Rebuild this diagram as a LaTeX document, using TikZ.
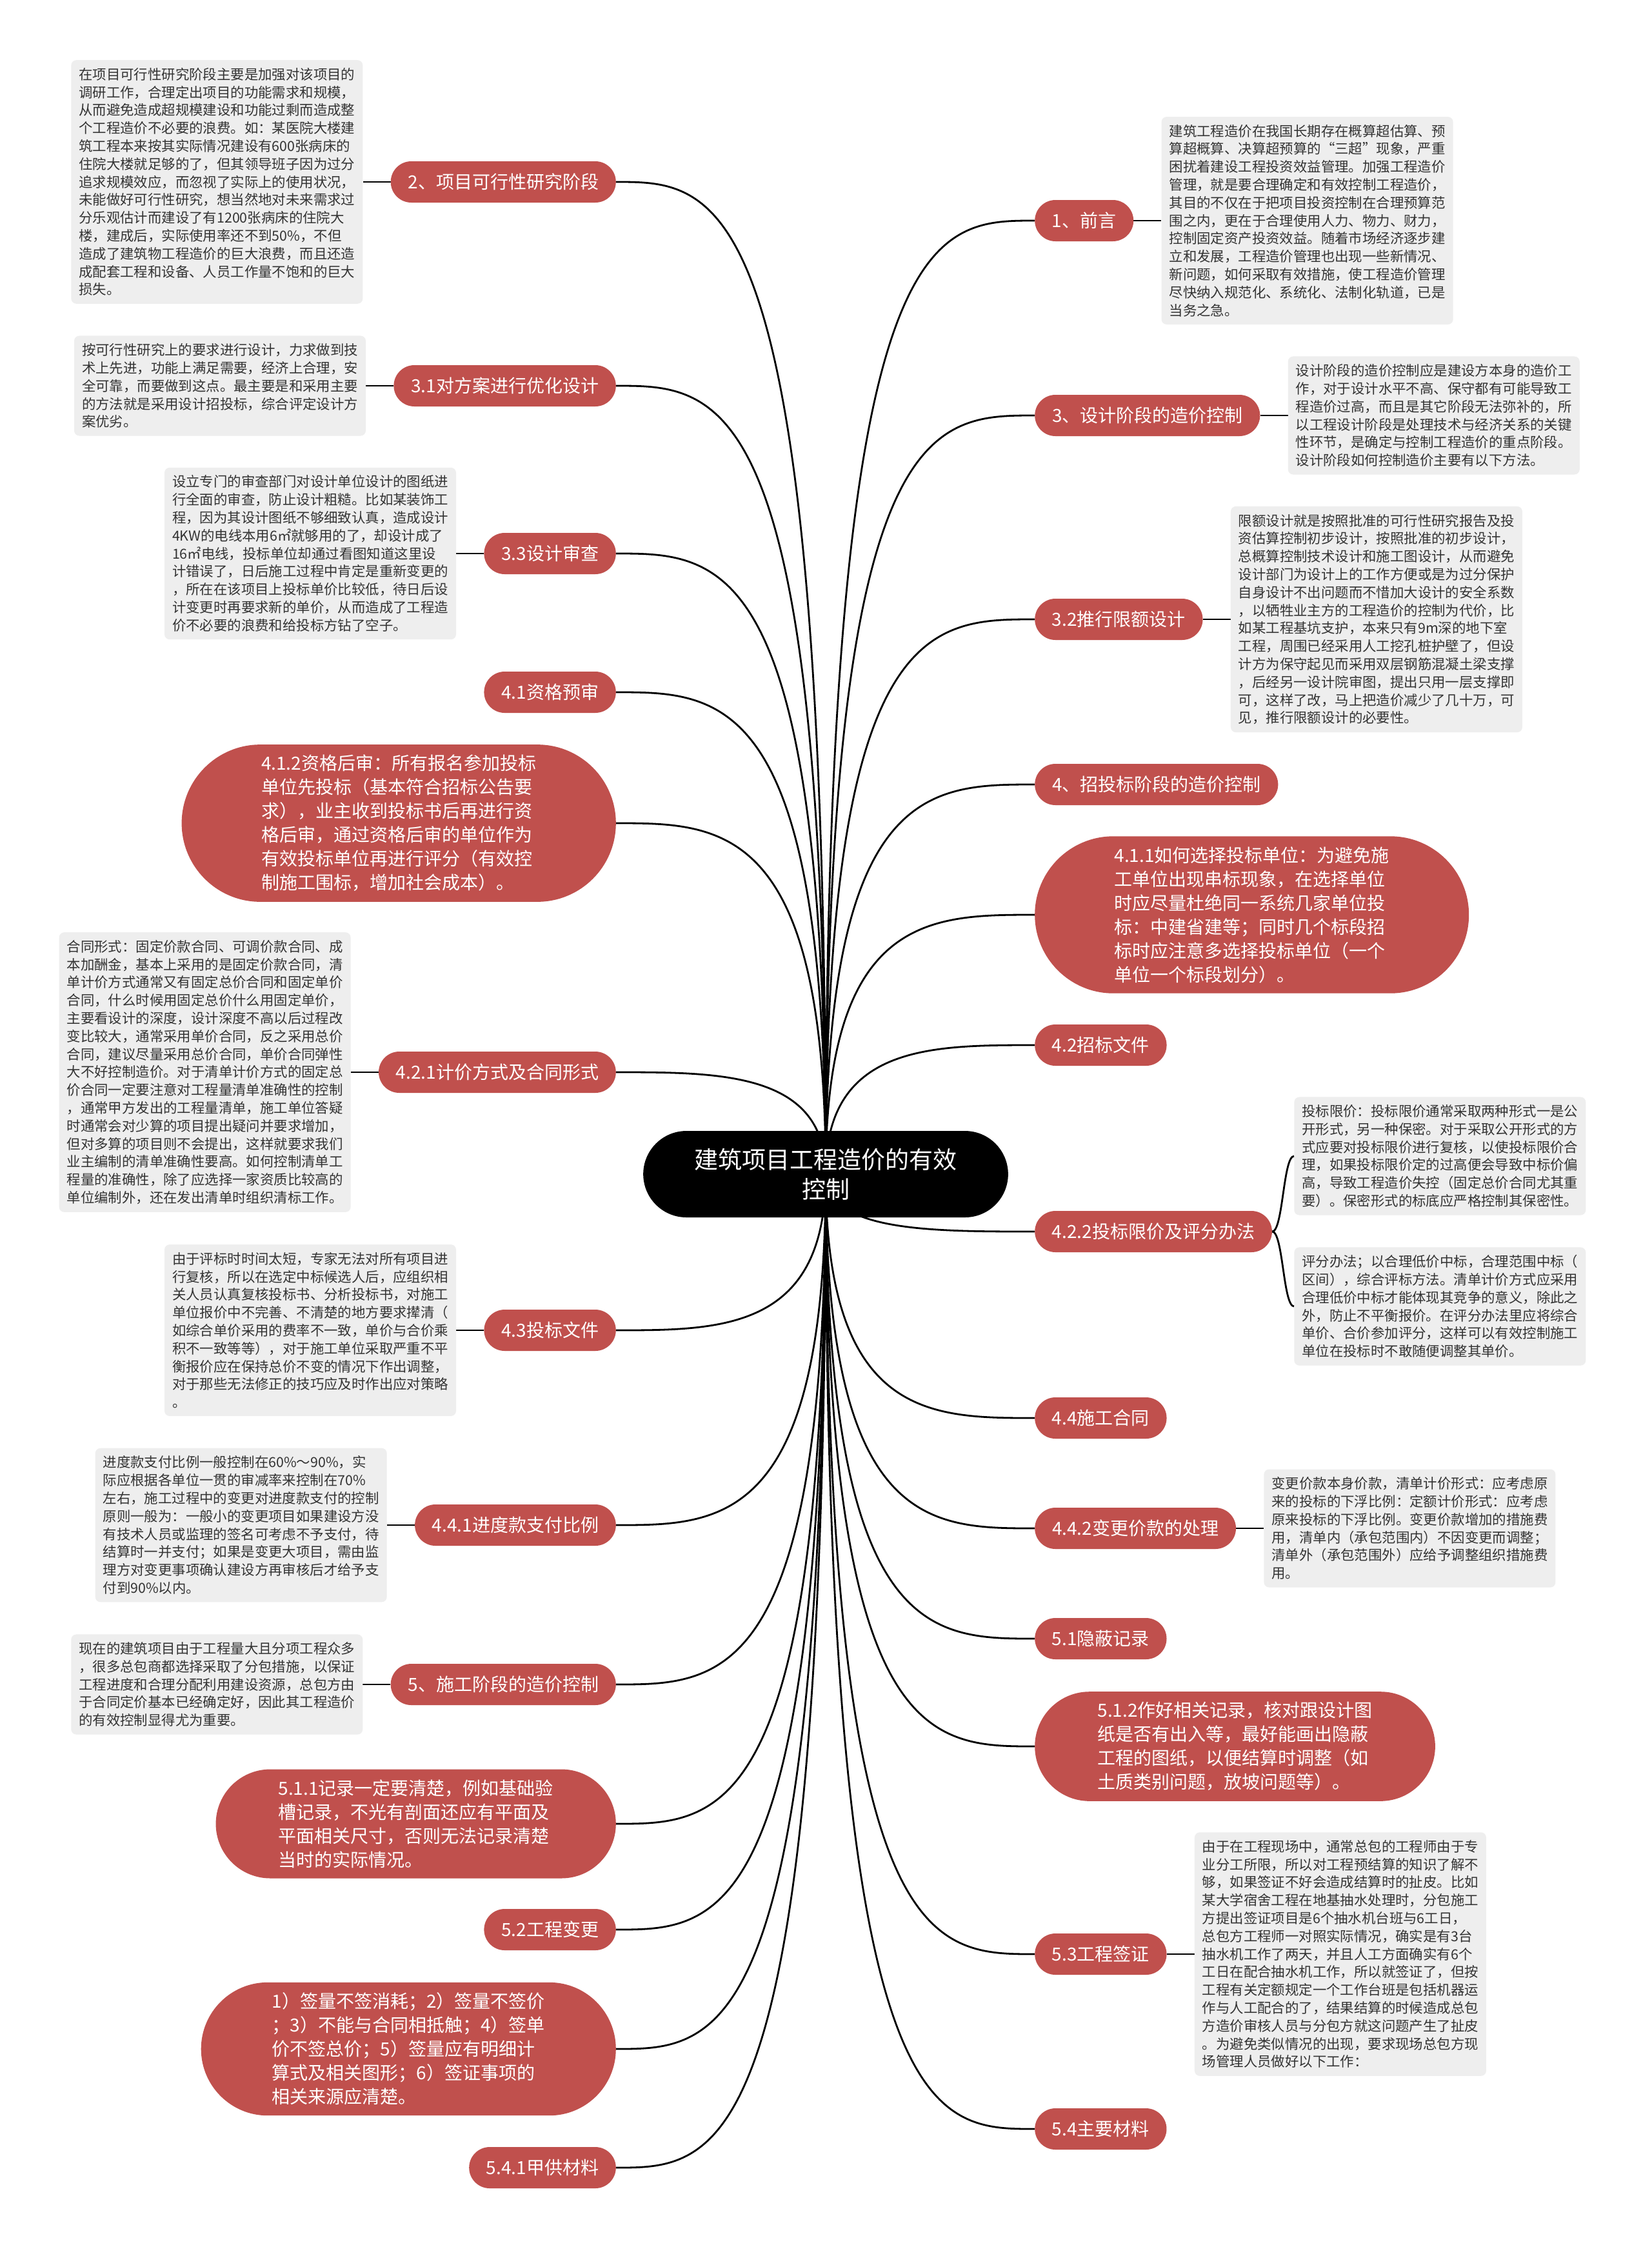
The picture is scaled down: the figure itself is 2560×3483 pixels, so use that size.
\documentclass[tikz,border=0pt]{standalone}
\usepackage{fontspec}
\setmainfont{Noto Sans CJK SC}
\usetikzlibrary{positioning,shapes.misc,calc,backgrounds}
\definecolor{branchred}{HTML}{C0504D}
\definecolor{notegray}{HTML}{EEEEEE}
\definecolor{notetext}{HTML}{333333}

\begin{document}
\begin{tikzpicture}[x=1pt, y=-1pt,
  every node/.style={font=\fontsize{28}{37}\selectfont},
  root/.style={rounded rectangle, fill=black, text=white, inner xsep=66pt, minimum height=134pt, align=center, font=\fontsize{37}{46}\selectfont},
  branch/.style={rounded rectangle, fill=branchred, text=white, inner xsep=24pt, minimum height=64pt},
  pill/.style={rounded rectangle, fill=branchred, text=white, inner xsep=62pt, inner ysep=16pt, align=left},
  note/.style={fill=notegray, text=notetext, rounded corners=8pt, inner sep=12pt, align=left, font=\fontsize{21.4}{27.8}\selectfont},
  fan/.style={line width=2.8pt, to path={.. controls (\tikztostart |- \tikztotarget) and ($(\tikztostart |- \tikztotarget)!0.5!(\tikztotarget)$) .. (\tikztotarget)}},
  link/.style={line width=2.8pt}]
\useasboundingbox (0,0) rectangle (2560,3483);

\node[root] (root) at (1280,1820) {建筑项目工程造价的有效\\控制};

% right side
\node[branch, anchor=west] (r1) at (1604,342) {1、前言};
\node[branch, anchor=west] (r3) at (1604,644) {3、设计阶段的造价控制};
\node[branch, anchor=west] (r32) at (1604,960) {3.2推行限额设计};
\node[branch, anchor=west] (r4) at (1604,1216) {4、招投标阶段的造价控制};
\node[pill, anchor=west] (r411) at (1604,1418) {4.1.1如何选择投标单位：为避免施\\工单位出现串标现象，在选择单位\\时应尽量杜绝同一系统几家单位投\\标：中建省建等；同时几个标段招\\标时应注意多选择投标单位（一个\\单位一个标段划分）。};
\node[branch, anchor=west] (r42) at (1604,1620) {4.2招标文件};
\node[branch, anchor=west] (r422) at (1604,1909) {4.2.2投标限价及评分办法};
\node[branch, anchor=west] (r44) at (1604,2198) {4.4施工合同};
\node[branch, anchor=west] (r442) at (1604,2369) {4.4.2变更价款的处理};
\node[branch, anchor=west] (r51) at (1604,2540) {5.1隐蔽记录};
\node[pill, anchor=west] (r512) at (1604,2707) {5.1.2作好相关记录，核对跟设计图\\纸是否有出入等，最好能画出隐蔽\\工程的图纸，以便结算时调整（如\\土质类别问题，放坡问题等）。};
\node[branch, anchor=west] (r53) at (1604,3029) {5.3工程签证};
\node[branch, anchor=west] (r54) at (1604,3300) {5.4主要材料};

\node[note, right=43pt of r1] (n1) {建筑工程造价在我国长期存在概算超估算、预\\算超概算、决算超预算的“三超”现象，严重\\困扰着建设工程投资效益管理。加强工程造价\\管理，就是要合理确定和有效控制工程造价，\\其目的不仅在于把项目投资控制在合理预算范\\围之内，更在于合理使用人力、物力、财力，\\控制固定资产投资效益。随着市场经济逐步建\\立和发展，工程造价管理也出现一些新情况、\\新问题，如何采取有效措施，使工程造价管理\\尽快纳入规范化、系统化、法制化轨道，已是\\当务之急。};
\node[note, right=43pt of r3] (n3) {设计阶段的造价控制应是建设方本身的造价工\\作，对于设计水平不高、保守都有可能导致工\\程造价过高，而且是其它阶段无法弥补的，所\\以工程设计阶段是处理技术与经济关系的关键\\性环节，是确定与控制工程造价的重点阶段。\\设计阶段如何控制造价主要有以下方法。};
\node[note, right=43pt of r32] (n32) {限额设计就是按照批准的可行性研究报告及投\\资估算控制初步设计，按照批准的初步设计，\\总概算控制技术设计和施工图设计，从而避免\\设计部门为设计上的工作方便或是为过分保护\\自身设计不出问题而不惜加大设计的安全系数\\，以牺牲业主方的工程造价的控制为代价，比\\如某工程基坑支护，本来只有9m深的地下室\\工程，周围已经采用人工挖孔桩护壁了，但设\\计方为保守起见而采用双层钢筋混凝土梁支撑\\，后经另一设计院审图，提出只用一层支撑即\\可，这样了改，马上把造价减少了几十万，可\\见，推行限额设计的必要性。};
\node[note, anchor=west] (k1) at ($(r422.east)+(34,-117)$) {投标限价：投标限价通常采取两种形式一是公\\开形式，另一种保密。对于采取公开形式的方\\式应要对投标限价进行复核，以使投标限价合\\理，如果投标限价定的过高便会导致中标价偏\\高，导致工程造价失控（固定总价合同尤其重\\要）。保密形式的标底应严格控制其保密性。};
\node[note, anchor=west] (k2) at ($(r422.east)+(34,116)$) {评分办法；以合理低价中标，合理范围中标（\\区间），综合评标方法。清单计价方式应采用\\合理低价中标才能体现其竞争的意义，除此之\\外，防止不平衡报价。在评分办法里应将综合\\单价、合价参加评分，这样可以有效控制施工\\单位在投标时不敢随便调整其单价。};
\node[note, right=43pt of r442] (n442) {变更价款本身价款，清单计价形式：应考虑原\\来的投标的下浮比例：定额计价形式：应考虑\\原来投标的下浮比例。变更价款增加的措施费\\用，清单内（承包范围内）不因变更而调整；\\清单外（承包范围外）应给予调整组织措施费\\用。};
\node[note, right=43pt of r53] (n53) {由于在工程现场中，通常总包的工程师由于专\\业分工所限，所以对工程预结算的知识了解不\\够，如果签证不好会造成结算时的扯皮。比如\\某大学宿舍工程在地基抽水处理时，分包施工\\方提出签证项目是6个抽水机台班与6工日，\\总包方工程师一对照实际情况，确实是有3台\\抽水机工作了两天，并且人工方面确实有6个\\工日在配合抽水机工作，所以就签证了，但按\\工程有关定额规定一个工作台班是包括机器运\\作与人工配合的了，结果结算的时候造成总包\\方造价审核人员与分包方就这问题产生了扯皮\\。为避免类似情况的出现，要求现场总包方现\\场管理人员做好以下工作：};

% left side
\node[branch, anchor=east] (l2) at (955,282) {2、项目可行性研究阶段};
\node[branch, anchor=east] (l31) at (955,598) {3.1对方案进行优化设计};
\node[branch, anchor=east] (l33) at (955,858) {3.3设计审查};
\node[branch, anchor=east] (l41) at (955,1073) {4.1资格预审};
\node[pill, anchor=east] (l412) at (955,1276) {4.1.2资格后审：所有报名参加投标\\单位先投标（基本符合招标公告要\\求），业主收到投标书后再进行资\\格后审，通过资格后审的单位作为\\有效投标单位再进行评分（有效控\\制施工围标，增加社会成本）。};
\node[branch, anchor=east] (l421) at (955,1662) {4.2.1计价方式及合同形式};
\node[branch, anchor=east] (l43) at (955,2062) {4.3投标文件};
\node[branch, anchor=east] (l441) at (955,2364) {4.4.1进度款支付比例};
\node[branch, anchor=east] (l5) at (955,2611) {5、施工阶段的造价控制};
\node[pill, anchor=east] (l511) at (955,2827) {5.1.1记录一定要清楚，例如基础验\\槽记录，不光有剖面还应有平面及\\平面相关尺寸，否则无法记录清楚\\当时的实际情况。};
\node[branch, anchor=east] (l52) at (955,2991) {5.2工程变更};
\node[pill, anchor=east] (lsig) at (955,3176) {1）签量不签消耗；2）签量不签价\\；3）不能与合同相抵触；4）签单\\价不签总价；5）签量应有明细计\\算式及相关图形；6）签证事项的\\相关来源应清楚。};
\node[branch, anchor=east] (l541) at (955,3360) {5.4.1甲供材料};

\node[note, left=43pt of l2] (n2) {在项目可行性研究阶段主要是加强对该项目的\\调研工作，合理定出项目的功能需求和规模，\\从而避免造成超规模建设和功能过剩而造成整\\个工程造价不必要的浪费。如：某医院大楼建\\筑工程本来按其实际情况建设有600张病床的\\住院大楼就足够的了，但其领导班子因为过分\\追求规模效应，而忽视了实际上的使用状况，\\未能做好可行性研究，想当然地对未来需求过\\分乐观估计而建设了有1200张病床的住院大\\楼，建成后，实际使用率还不到50\%，不但\\造成了建筑物工程造价的巨大浪费，而且还造\\成配套工程和设备、人员工作量不饱和的巨大\\损失。};
\node[note, left=43pt of l31] (n31) {按可行性研究上的要求进行设计，力求做到技\\术上先进，功能上满足需要，经济上合理，安\\全可靠，而要做到这点。最主要是和采用主要\\的方法就是采用设计招投标，综合评定设计方\\案优劣。};
\node[note, left=43pt of l33] (n33) {设立专门的审查部门对设计单位设计的图纸进\\行全面的审查，防止设计粗糙。比如某装饰工\\程，因为其设计图纸不够细致认真，造成设计\\4KW的电线本用6㎡就够用的了，却设计成了\\16㎡电线，投标单位却通过看图知道这里设\\计错误了，日后施工过程中肯定是重新变更的\\，所在在该项目上投标单价比较低，待日后设\\计变更时再要求新的单价，从而造成了工程造\\价不必要的浪费和给投标方钻了空子。};
\node[note, left=43pt of l421] (n421) {合同形式：固定价款合同、可调价款合同、成\\本加酬金，基本上采用的是固定价款合同，清\\单计价方式通常又有固定总价合同和固定单价\\合同，什么时候用固定总价什么用固定单价，\\主要看设计的深度，设计深度不高以后过程改\\变比较大，通常采用单价合同，反之采用总价\\合同，建议尽量采用总价合同，单价合同弹性\\大不好控制造价。对于清单计价方式的固定总\\价合同一定要注意对工程量清单准确性的控制\\，通常甲方发出的工程量清单，施工单位答疑\\时通常会对少算的项目提出疑问并要求增加，\\但对多算的项目则不会提出，这样就要求我们\\业主编制的清单准确性要高。如何控制清单工\\程量的准确性，除了应选择一家资质比较高的\\单位编制外，还在发出清单时组织清标工作。};
\node[note, left=43pt of l43] (n43) {由于评标时时间太短，专家无法对所有项目进\\行复核，所以在选定中标候选人后，应组织相\\关人员认真复核投标书、分析投标书，对施工\\单位报价中不完善、不清楚的地方要求撵清（\\如综合单价采用的费率不一致，单价与合价乘\\积不一致等等），对于施工单位采取严重不平\\衡报价应在保持总价不变的情况下作出调整，\\对于那些无法修正的技巧应及时作出应对策略\\。};
\node[note, left=43pt of l441] (n441) {进度款支付比例一般控制在60\%～90\%，实\\际应根据各单位一贯的审减率来控制在70\%\\左右，施工过程中的变更对进度款支付的控制\\原则一般为：一般小的变更项目如果建设方没\\有技术人员或监理的签名可考虑不予支付，待\\结算时一并支付；如果是变更大项目，需由监\\理方对变更事项确认建设方再审核后才给予支\\付到90\%以内。};
\node[note, left=43pt of l5] (n5) {现在的建筑项目由于工程量大且分项工程众多\\，很多总包商都选择采取了分包措施，以保证\\工程进度和合理分配利用建设资源，总包方由\\于合同定价基本已经确定好，因此其工程造价\\的有效控制显得尤为重要。};

\begin{scope}[on background layer]
\fill[white] (0,0) rectangle (2560,3483);
% root to branches
\draw[fan] (root.center) to (r1.west);
\draw[fan] (root.center) to (r3.west);
\draw[fan] (root.center) to (r32.west);
\draw[fan] (root.center) to (r4.west);
\draw[fan] (root.center) to (r411.west);
\draw[fan] (root.center) to (r42.west);
\draw[fan] (root.center) to (r422.west);
\draw[fan] (root.center) to (r44.west);
\draw[fan] (root.center) to (r442.west);
\draw[fan] (root.center) to (r51.west);
\draw[fan] (root.center) to (r512.west);
\draw[fan] (root.center) to (r53.west);
\draw[fan] (root.center) to (r54.west);
\draw[fan] (root.center) to (l2.east);
\draw[fan] (root.center) to (l31.east);
\draw[fan] (root.center) to (l33.east);
\draw[fan] (root.center) to (l41.east);
\draw[fan] (root.center) to (l412.east);
\draw[fan] (root.center) to (l421.east);
\draw[fan] (root.center) to (l43.east);
\draw[fan] (root.center) to (l441.east);
\draw[fan] (root.center) to (l5.east);
\draw[fan] (root.center) to (l511.east);
\draw[fan] (root.center) to (l52.east);
\draw[fan] (root.center) to (lsig.east);
\draw[fan] (root.center) to (l541.east);
% branches to notes
\draw[link] (r1.east) -- (n1.west);
\draw[link] (r3.east) -- (n3.west);
\draw[link] (r32.east) -- (n32.west);
\draw[link] (r442.east) -- (n442.west);
\draw[link] (r53.east) -- (n53.west);
\draw[link] (r422.east) .. controls +(17,0) and +(-17,0) .. (k1.west);
\draw[link] (r422.east) .. controls +(17,0) and +(-17,0) .. (k2.west);
\draw[link] (l2.west) -- (n2.east);
\draw[link] (l31.west) -- (n31.east);
\draw[link] (l33.west) -- (n33.east);
\draw[link] (l421.west) -- (n421.east);
\draw[link] (l43.west) -- (n43.east);
\draw[link] (l441.west) -- (n441.east);
\draw[link] (l5.west) -- (n5.east);
\end{scope}
\end{tikzpicture}
\end{document}
